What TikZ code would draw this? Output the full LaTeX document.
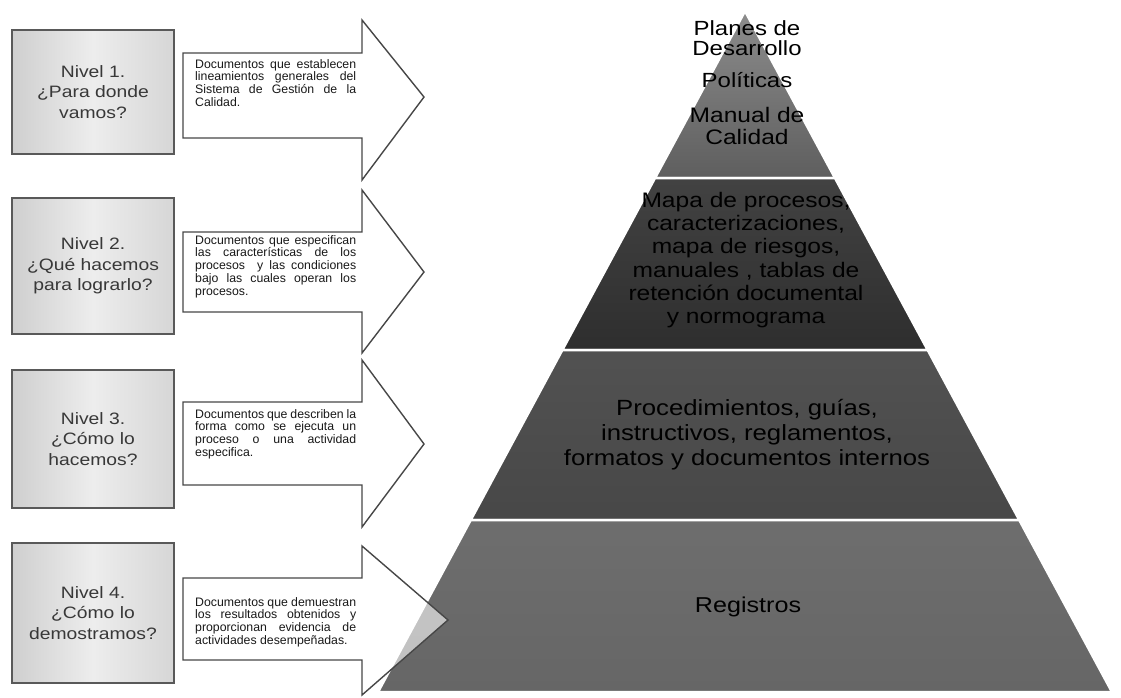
\documentclass[tikz,border=0pt]{standalone}
\usepackage{fontspec}
\setmainfont[FakeStretch=1.17]{Liberation Sans}
\newfontfamily\notefont{Liberation Sans}
\usetikzlibrary{positioning}
\begin{document}
\begin{tikzpicture}[x=1pt,y=-1pt,
  levelbox/.style={draw=black!65, line width=1.6pt, left color=black!19, right color=black!16, middle color=black!7, minimum width=162pt, text=black!78, align=center, font=\fontsize{16.5}{20.5}\selectfont},
  docarrow/.style={draw=black!72, line width=1.4pt, fill=white},
  doctext/.style={anchor=north west, text width=161pt, align=justify, inner sep=0pt, text=black!90, font=\notefont\fontsize{12.3}{12.8}\selectfont},
  band/.style={draw=white, line width=2.5pt},
  bandlabel/.style={align=center, inner sep=0pt, text=black},
]
\useasboundingbox (0,0) rectangle (1121,697);

\node[levelbox, minimum height=124pt] (n1) at (93,92) {Nivel 1.\\¿Para donde\\vamos?};
\node[levelbox, minimum height=136pt] (n2) at (93,266) {Nivel 2.\\¿Qué hacemos\\para lograrlo?};
\node[levelbox, minimum height=138pt] (n3) at (93,439) {Nivel 3.\\¿Cómo lo\\hacemos?};
\node[levelbox, minimum height=140pt] (n4) at (93,613) {Nivel 4.\\¿Cómo lo\\demostramos?};

\draw[docarrow] (183,53) -- (362,53) -- (362,20) -- (424,97) -- (362,180) -- (362,138) -- (183,138) -- cycle;
\draw[docarrow] (183,232) -- (362,232) -- (362,190) -- (424,272) -- (362,353) -- (362,312) -- (183,312) -- cycle;
\draw[docarrow] (183,402) -- (362,402) -- (362,360) -- (424,444) -- (362,527) -- (362,485) -- (183,485) -- cycle;

\path[band, top color=black!45, bottom color=black!63] (745,11) -- (835,178) -- (655,178) -- cycle;
\path[band, top color=black!74, bottom color=black!82] (655,178) -- (835,178) -- (927.7,350) -- (562.3,350) -- cycle;
\path[band, top color=black!68, bottom color=black!72] (562.3,350) -- (927.7,350) -- (1019.3,520) -- (470.7,520) -- cycle;
\path[band, top color=black!57, bottom color=black!60] (470.7,520) -- (1019.3,520) -- (1112,692) -- (378,692) -- cycle;

\draw[docarrow, fill opacity=0.6] (183,578) -- (362,578) -- (362,546) -- (448,620) -- (362,695) -- (362,660) -- (183,660) -- cycle;

\node[doctext] (d1) at (195,59) {Documentos que establecen\linebreak lineamientos generales del\linebreak Sistema de Gestión de la\linebreak Calidad.};
\node[doctext] (d2) at (195,235) {Documentos que especifican\linebreak las características de los\linebreak procesos \ y las condiciones\linebreak bajo las cuales operan los\linebreak procesos.};
\node[doctext] (d3) at (195,409) {Documentos que describen la\linebreak forma como se ejecuta un\linebreak proceso o una actividad\linebreak especifica.};
\node[doctext] (d4) at (195,597) {Documentos que demuestran\linebreak los resultados obtenidos y\linebreak proporcionan evidencia de\linebreak actividades desempeñadas.};

\node[bandlabel, font=\fontsize{20.5}{20}\selectfont] (planes) at (747,38) {Planes de\\Desarrollo};
\node[bandlabel, font=\fontsize{20.5}{20}\selectfont] (politicas) at (747,80) {Políticas};
\node[bandlabel, font=\fontsize{21}{22}\selectfont] (manual) at (747,126) {Manual de\\Calidad};
\node[bandlabel, font=\fontsize{21}{23.3}\selectfont] (mapa) at (746,260) {Mapa de procesos,\\caracterizaciones,\\mapa de riesgos,\\manuales , tablas de\\retención documental\\y normograma};
\node[bandlabel, font=\fontsize{22}{25}\selectfont] (proced) at (747,435) {Procedimientos, guías,\\instructivos, reglamentos,\\formatos y documentos internos};
\node[bandlabel, font=\fontsize{21.5}{25}\selectfont] (registros) at (748,607) {Registros};
\end{tikzpicture}
\end{document}
